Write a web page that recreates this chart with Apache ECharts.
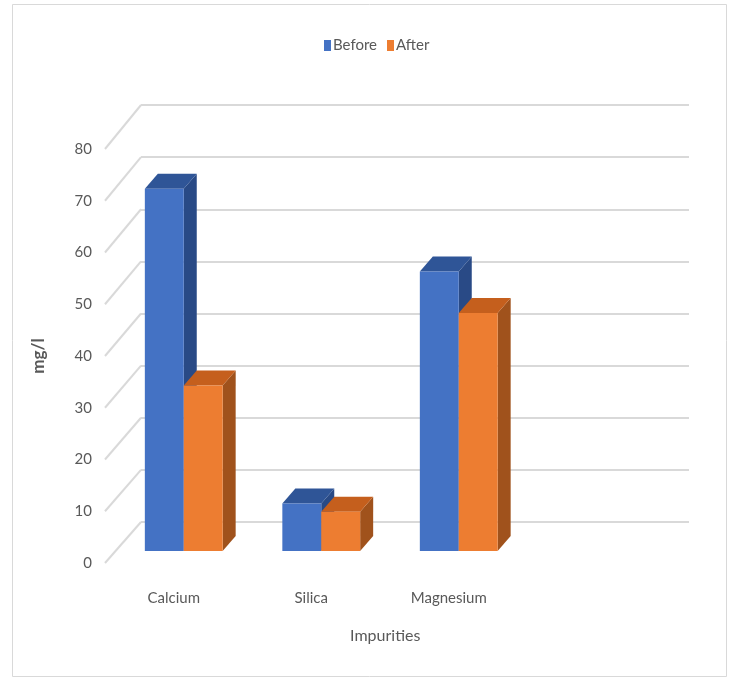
<!DOCTYPE html>
<html>
<head>
<meta charset="utf-8">
<script src="https://cdn.jsdelivr.net/npm/echarts@6/dist/echarts.min.js"></script>
<style>
  html, body { margin: 0; padding: 0; background: #ffffff; }
  #chart { width: 729px; height: 686px; }
</style>
</head>
<body>
<div id="chart"></div>
<script>
// Impurity concentrations (mg/l) before and after treatment
const categories = ['Calcium', 'Silica', 'Magnesium'];
const beforeValues = [70, 9.2, 54];
const afterValues = [32, 7.6, 46];
const seriesNames = ['Before', 'After'];

// Value axis ticks
const yMin = 0;
const yMax = 80;
const yStep = 10;
const yTicks = [0, 10, 20, 30, 40, 50, 60, 70, 80];

const FONT = 'Lato, "Open Sans", sans-serif';
const TEXT = '#595959';
const GRID_LINE = '#d9d9d9';

// Pseudo-3D layout: front plane (labels, bars) and back wall (gridlines)
const FRONT = { left: 105, top: 149, right: 211.5, bottom: 123 };
const WALL = { left: 141, top: 105, right: 40, bottom: 164 };
const BAR = { widthRatio: 0.283, offX: 10, offY: -12, depthX: 13, depthY: -15 };

const palette = {
  Before: { front: '#4472C4', top: '#2F5597', side: '#294A86' },
  After:  { front: '#ED7D31', top: '#C55F1D', side: '#A0521C' }
};

function boxRenderer(name, leftSide) {
  const c = palette[name];
  return function (params, api) {
    const i = api.value(0);
    const v = api.value(1);
    const base = api.coord([i, 0]);
    const top = api.coord([i, v]);
    const band = api.size([1, 0])[0];
    const w = band * BAR.widthRatio;
    const x0 = base[0] + (leftSide ? -w : 0) + BAR.offX;
    const x1 = x0 + w;
    const yb = base[1] + BAR.offY;
    const yt = top[1] + BAR.offY;
    const dx = BAR.depthX, dy = BAR.depthY;
    return {
      type: 'group',
      children: [
        { type: 'polygon', shape: { points: [[x1, yt], [x1 + dx, yt + dy], [x1 + dx, yb + dy], [x1, yb]] },
          style: { fill: c.side } },
        { type: 'polygon', shape: { points: [[x0, yt], [x0 + dx, yt + dy], [x1 + dx, yt + dy], [x1, yt]] },
          style: { fill: c.top } },
        { type: 'rect', shape: { x: x0, y: yt, width: w, height: yb - yt },
          style: { fill: c.front } }
      ]
    };
  };
}

const chart = echarts.init(document.getElementById('chart'), null, { renderer: 'canvas' });

const option = {
  backgroundColor: '#ffffff',
  animation: false,
  textStyle: { fontFamily: FONT },
  legend: {
    top: 33,
    left: 319,
    icon: 'rect',
    itemWidth: 7,
    itemHeight: 11,
    itemGap: 10,
    textStyle: { fontFamily: FONT, fontSize: 15, color: TEXT, padding: [0, 0, 0, -3] },
    data: [
      { name: seriesNames[0], itemStyle: { color: palette.Before.front } },
      { name: seriesNames[1], itemStyle: { color: palette.After.front } }
    ]
  },
  grid: [
    Object.assign({ containLabel: false }, FRONT),
    Object.assign({ containLabel: false }, WALL)
  ],
  xAxis: [
    {
      type: 'category',
      gridIndex: 0,
      data: categories,
      axisLine: { show: false },
      axisTick: { show: false },
      axisLabel: { fontFamily: FONT, fontSize: 15, color: TEXT, margin: 28 },
      name: 'Impurities',
      nameLocation: 'middle',
      nameGap: 65,
      nameTextStyle: { fontFamily: FONT, fontSize: 16, color: TEXT, padding: [0, 0, 0, 148] }
    },
    {
      type: 'value',
      gridIndex: 1,
      min: 0,
      max: 1,
      show: false
    }
  ],
  yAxis: [
    {
      type: 'value',
      gridIndex: 0,
      min: yMin,
      max: yMax,
      interval: yStep,
      axisLine: { show: false },
      axisTick: { show: false },
      splitLine: { show: false },
      axisLabel: { fontFamily: FONT, fontSize: 15, color: TEXT, margin: 13 },
      name: 'mg/l',
      nameLocation: 'middle',
      nameRotate: 90,
      nameGap: 58,
      nameTextStyle: { fontFamily: FONT, fontSize: 17, fontWeight: 'bold', color: TEXT }
    },
    {
      type: 'value',
      gridIndex: 1,
      min: yMin,
      max: yMax,
      interval: yStep,
      axisLine: { show: false },
      axisTick: { show: false },
      axisLabel: { show: false },
      splitLine: { show: true, lineStyle: { color: GRID_LINE, width: 2 } }
    }
  ],
  series: [
    {
      name: seriesNames[0],
      type: 'custom',
      xAxisIndex: 0,
      yAxisIndex: 0,
      itemStyle: { color: palette.Before.front },
      renderItem: boxRenderer('Before', true),
      data: beforeValues.map((v, i) => [i, v]),
      z: 2
    },
    {
      name: seriesNames[1],
      type: 'custom',
      xAxisIndex: 0,
      yAxisIndex: 0,
      itemStyle: { color: palette.After.front },
      renderItem: boxRenderer('After', false),
      data: afterValues.map((v, i) => [i, v]),
      z: 3
    }
  ]
};

chart.setOption(option);

// Side-wall diagonals joining each front tick to its back-wall gridline, plus the outer frame
const diagonals = yTicks.map(function (v) {
  const yF = chart.convertToPixel({ yAxisIndex: 0 }, v);
  const yW = chart.convertToPixel({ yAxisIndex: 1 }, v);
  return {
    type: 'line',
    shape: { x1: FRONT.left, y1: yF, x2: WALL.left, y2: yW },
    style: { stroke: GRID_LINE, lineWidth: 2 },
    z: 0
  };
});

chart.setOption({
  graphic: diagonals.concat([{
    type: 'rect',
    shape: { x: 12.5, y: 4.5, width: 714, height: 672 },
    style: { fill: 'none', stroke: '#d9d9d9', lineWidth: 1 },
    z: 0
  }])
});
</script>
</body>
</html>
